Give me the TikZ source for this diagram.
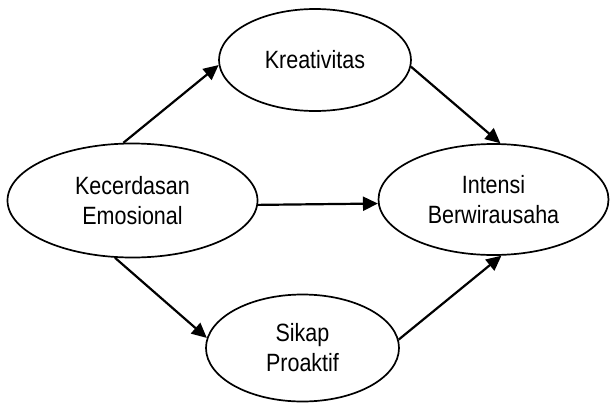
\documentclass[tikz,border=0pt]{standalone}
\usepackage{fontspec}
\setmainfont[FakeStretch=0.86]{Liberation Sans}
\usetikzlibrary{arrows.meta, shapes.geometric}

\begin{document}
\begin{tikzpicture}[x=1pt,y=-1pt,>={Triangle[length=15pt,width=14pt]},
        every node/.style={font=\fontsize{25}{30}\selectfont, align=center},
        variabel/.style={ellipse, draw, line width=1.7pt, inner sep=0pt},
        panah/.style={->, line width=2.2pt}]
    \useasboundingbox (0,0) rectangle (611,405);

      \node[variabel, minimum width=250pt, minimum height=114pt] (emosi)   at (132.5,200.5) {Kecerdasan\\Emosional};
      \node[variabel, minimum width=192pt, minimum height=102pt] (kreatif) at (315,60)      {Kreativitas};
      \node[variabel, minimum width=230pt, minimum height=111pt] (intensi) at (493.5,199.5) {Intensi\\Berwirausaha};
      \node[variabel, minimum width=193pt, minimum height=107pt] (sikap)   at (302.5,348)   {Sikap\\Proaktif};

      \path[panah] (emosi.99)   edge (kreatif.183)
                   (emosi.-2)   edge (intensi.182)
                   (emosi.253)  edge (sikap.174)
                   (kreatif.-4) edge (intensi.83)
                   (sikap.5)    edge (intensi.-82);
    \end{tikzpicture}
\end{document}
